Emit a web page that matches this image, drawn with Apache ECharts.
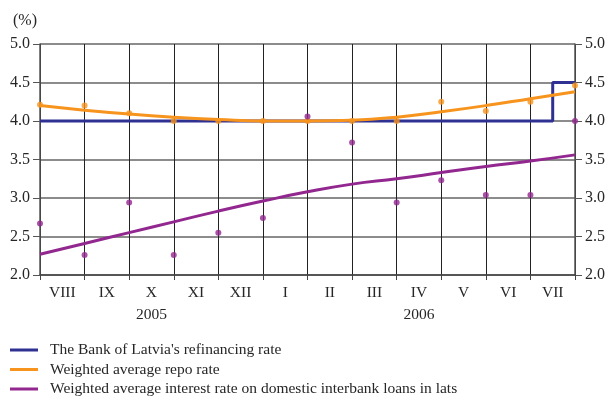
<!DOCTYPE html>
<html>
<head>
<meta charset="utf-8">
<script src="https://cdn.jsdelivr.net/npm/echarts@6/dist/echarts.min.js"></script>
<style>
  html, body { margin: 0; padding: 0; background: #fff; }
  #chart { width: 610px; height: 396px; }
</style>
</head>
<body>
<div id="chart"></div>
<script>
// month labels (Aug 2005 .. Jul 2006), values sit on month boundaries
const months = ['VIII', 'IX', 'X', 'XI', 'XII', 'I', 'II', 'III', 'IV', 'V', 'VI', 'VII'];
const years = ['', '', '2005', '', '', '', '', '', '2006', '', '', ''];

// The Bank of Latvia's refinancing rate (changes mid-July 2006)
const refinancingRate = [4.0, 4.0, 4.0, 4.0, 4.0, 4.0, 4.0, 4.0, 4.0, 4.0, 4.0, 4.0, 4.5];

// Weighted average repo rate: observations and trend
const repoDots = [4.21, 4.20, 4.10, 4.00, 4.00, 4.00, 4.00, 4.00, 4.00, 4.25, 4.13, 4.25, 4.46];
const repoTrend = [4.20, 4.14, 4.09, 4.05, 4.02, 4.00, 4.00, 4.01, 4.05, 4.12, 4.20, 4.29, 4.38];

// Weighted average interest rate on domestic interbank loans in lats: observations and trend
const interbankDots = [2.67, 2.26, 2.94, 2.26, 2.55, 2.74, 4.06, 3.72, 2.94, 3.23, 3.04, 3.04, 4.00];
const interbankTrend = [2.27, 2.41, 2.55, 2.69, 2.83, 2.96, 3.08, 3.18, 3.25, 3.33, 3.41, 3.48, 3.56];

const BLUE = '#2e3192';
const ORANGE = '#f7941d';
const PURPLE = '#92278f';
const FONT = '"Liberation Serif", "DejaVu Serif", serif';
const TEXT = '#262626';

const withIndex = arr => arr.map((v, i) => [i, v]);

const chart = echarts.init(document.getElementById('chart'));

const yAxisBase = {
    type: 'value',
    min: 2,
    max: 5,
    interval: 0.5,
    axisLine: { show: true, lineStyle: { color: '#555', width: 1.5 } },
    axisTick: { show: true, length: 7, lineStyle: { color: '#555', width: 1 } },
    axisLabel: { color: TEXT, fontFamily: FONT, fontSize: 16, margin: 10, formatter: v => v.toFixed(1) }
};

const option = {
    animation: false,
    textStyle: { fontFamily: FONT },
    title: {
        text: '(%)',
        left: 8,
        top: 8,
        textStyle: { fontFamily: FONT, fontSize: 16, fontWeight: 'normal', color: TEXT }
    },
    grid: { left: 40, right: 35, top: 44, bottom: 121 },
    legend: {
        orient: 'vertical',
        left: 10,
        top: 342,
        height: 60,
        padding: 0,
        itemWidth: 28,
        itemHeight: 3,
        itemGap: 3.5,
        icon: 'rect',
        data: [
            "The Bank of Latvia's refinancing rate",
            'Weighted average repo rate',
            'Weighted average interest rate on domestic interbank loans in lats'
        ],
        textStyle: { fontFamily: FONT, fontSize: 15.5, color: TEXT, lineHeight: 16, padding: [0, 0, 0, 7] }
    },
    xAxis: [
        {
            type: 'value',
            min: 0,
            max: 12,
            interval: 1,
            axisLine: { show: true, lineStyle: { color: '#444', width: 1.5 } },
            axisTick: { show: true, length: 5, lineStyle: { color: '#444' } },
            axisLabel: { show: false },
            splitLine: { show: true, lineStyle: { color: '#222', width: 1 } }
        },
        {
            type: 'category',
            data: months,
            position: 'bottom',
            boundaryGap: true,
            axisLine: { show: false },
            axisTick: { show: false },
            axisLabel: { interval: 0, margin: 10, color: TEXT, fontFamily: FONT, fontSize: 15.5 }
        },
        {
            type: 'category',
            data: years,
            position: 'bottom',
            boundaryGap: true,
            axisLine: { show: false },
            axisTick: { show: false },
            axisLabel: { interval: 0, margin: 32, color: TEXT, fontFamily: FONT, fontSize: 15.5 }
        }
    ],
    yAxis: [
        Object.assign({}, yAxisBase, {
            position: 'left',
            splitLine: { show: true, lineStyle: { color: '#666', width: 1.5 } }
        }),
        Object.assign({}, yAxisBase, {
            position: 'right',
            splitLine: { show: false }
        })
    ],
    series: [
        {
            name: "The Bank of Latvia's refinancing rate",
            type: 'line',
            step: 'middle',
            data: withIndex(refinancingRate),
            showSymbol: false,
            lineStyle: { color: BLUE, width: 3 },
            itemStyle: { color: BLUE }
        },
        {
            name: 'Weighted average repo rate',
            type: 'line',
            smooth: true,
            data: withIndex(repoTrend),
            showSymbol: false,
            lineStyle: { color: ORANGE, width: 3 },
            itemStyle: { color: ORANGE }
        },
        {
            name: 'Weighted average interest rate on domestic interbank loans in lats',
            type: 'line',
            smooth: true,
            data: withIndex(interbankTrend),
            showSymbol: false,
            lineStyle: { color: PURPLE, width: 3 },
            itemStyle: { color: PURPLE }
        },
        {
            name: 'repo observations',
            type: 'scatter',
            data: withIndex(repoDots),
            symbolSize: 6,
            itemStyle: { color: ORANGE },
            z: 5
        },
        {
            name: 'interbank observations',
            type: 'scatter',
            data: withIndex(interbankDots),
            symbolSize: 6,
            itemStyle: { color: PURPLE },
            z: 5
        }
    ]
};

chart.setOption(option);
</script>
</body>
</html>
